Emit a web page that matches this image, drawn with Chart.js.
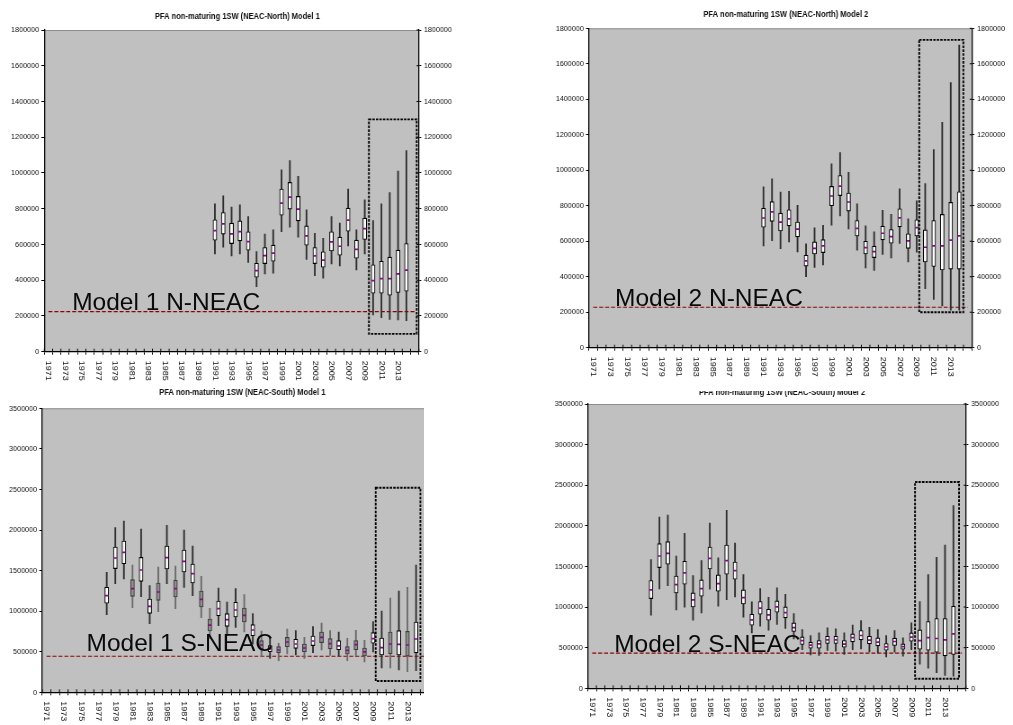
<!DOCTYPE html>
<html>
<head>
<meta charset="utf-8">
<script src="https://cdn.jsdelivr.net/npm/chart.js@4/dist/chart.umd.min.js"></script>
<style>
  html, body { margin: 0; padding: 0; background: #fff; }
  body { width: 1013px; height: 725px; position: relative; overflow: hidden;
         font-family: "Liberation Sans", Arial, sans-serif; }
  .panel { position: absolute; overflow: hidden; }
  .panel canvas { position: absolute; left: 0; top: 0; }
  .stock { position: absolute; font-size: 24.5px; line-height: 1; color: #0a0a0a;
           white-space: nowrap; z-index: 10; }
</style>
</head>
<body>
<div class="panel" id="box-bl" style="left:0;top:385px;width:424px;height:340px;z-index:1"><canvas></canvas></div>
<div class="panel" id="box-br" style="left:500px;top:380px;width:513px;height:345px;z-index:1"><canvas></canvas></div>
<div class="panel" id="box-tl" style="left:0;top:0;width:500px;height:386px;z-index:2"><canvas></canvas></div>
<div class="panel" id="box-tr" style="left:500px;top:0;width:513px;height:391px;z-index:3;background:#fff"><canvas></canvas></div>

<div class="stock" style="left:72.2px;top:290px">Model 1 N-NEAC</div>
<div class="stock" style="left:615px;top:286px">Model 2 N-NEAC</div>
<div class="stock" style="left:86.5px;top:631px">Model 1 S-NEAC</div>
<div class="stock" style="left:614.2px;top:631.6px">Model 2 S-NEAC</div>

<script>
// ---- categories (last slot is an unlabelled spare) ----------------------
const years = ['1971','1972','1973','1974','1975','1976','1977','1978','1979','1980',
  '1981','1982','1983','1984','1985','1986','1987','1988','1989','1990',
  '1991','1992','1993','1994','1995','1996','1997','1998','1999','2000',
  '2001','2002','2003','2004','2005','2006','2007','2008','2009','2010',
  '2011','2012','2013','2014',''];

// ---- NEAC-North, model 1 (1991-2014) ----------------------------------
const northM1Start = 1991;
const northM1Max = [827000, 872000, 809000, 822000, 756000, 560000, 658000, 682000, 1018000, 1070000, 981000, 794000, 663000, 635000, 756000, 719000, 910000, 682000, 850000, 734000, 827000, 891000, 1010000, 1126000];
const northM1Q3  = [738000, 779000, 719000, 732000, 671000, 495000, 583000, 596000, 910000, 947000, 869000, 704000, 583000, 559000, 671000, 641000, 803000, 624000, 747000, 486000, 506000, 529000, 568000, 605000];
const northM1Med = [678000, 715000, 659000, 672000, 616000, 454000, 538000, 551000, 831000, 865000, 798000, 648000, 536000, 512000, 615000, 590000, 736000, 572000, 689000, 398000, 409000, 409000, 435000, 456000];
const northM1Q1  = [624000, 658000, 605000, 620000, 568000, 417000, 493000, 506000, 764000, 798000, 732000, 596000, 493000, 473000, 564000, 540000, 674000, 523000, 628000, 327000, 327000, 316000, 331000, 338000];
const northM1Min = [547000, 585000, 536000, 547000, 499000, 364000, 435000, 439000, 672000, 697000, 641000, 517000, 426000, 411000, 491000, 480000, 592000, 458000, 547000, 206000, 191000, 181000, 178000, 174000];

// ---- NEAC-North, model 2 (1991-2014) ----------------------------------
const northM2Start = 1991;
const northM2Max = [907000, 951000, 877000, 881000, 802000, 585000, 675000, 689000, 1036000, 1100000, 989000, 811000, 687000, 653000, 774000, 751000, 896000, 726000, 828000, 925000, 1117000, 1270000, 1494000, 1706000];
const northM2Q3  = [786000, 823000, 758000, 777000, 708000, 521000, 596000, 609000, 909000, 970000, 872000, 717000, 600000, 572000, 685000, 666000, 783000, 642000, 721000, 664000, 717000, 751000, 819000, 879000];
const northM2Med = [731000, 766000, 708000, 726000, 668000, 489000, 560000, 574000, 855000, 911000, 821000, 672000, 564000, 542000, 645000, 626000, 732000, 602000, 677000, 566000, 574000, 574000, 606000, 630000];
const northM2Q1  = [679000, 712000, 658000, 687000, 625000, 460000, 528000, 536000, 800000, 857000, 770000, 630000, 528000, 508000, 608000, 589000, 681000, 560000, 630000, 483000, 458000, 438000, 443000, 443000];
const northM2Min = [573000, 603000, 558000, 596000, 540000, 400000, 453000, 466000, 691000, 742000, 670000, 549000, 449000, 436000, 526000, 506000, 587000, 483000, 538000, 332000, 272000, 236000, 211000, 211000];

// ---- NEAC-South, model 1 (1978-2014) ----------------------------------
const southM1Start = 1978;
const southM1Max = [1479000, 2029000, 2111000, 1569000, 2013000, 1314000, 1544000, 2058000, 1557000, 2000000, 1803000, 1429000, 1035000, 1285000, 1113000, 1277000, 1203000, 969000, 756000, 665000, 604000, 780000, 760000, 677000, 809000, 854000, 760000, 743000, 665000, 764000, 641000, 871000, 1002000, 1162000, 1248000, 1294000, 1569000];
const southM1Q3  = [1294000, 1791000, 1865000, 1388000, 1663000, 1150000, 1347000, 1803000, 1380000, 1754000, 1581000, 1248000, 903000, 1125000, 969000, 1109000, 1039000, 834000, 636000, 575000, 562000, 677000, 653000, 595000, 694000, 743000, 661000, 636000, 562000, 636000, 546000, 735000, 669000, 743000, 760000, 751000, 866000];
const southM1Med = [1191000, 1655000, 1725000, 1277000, 1507000, 1060000, 1236000, 1659000, 1277000, 1614000, 1462000, 1146000, 829000, 1031000, 895000, 1014000, 949000, 768000, 583000, 534000, 521000, 620000, 595000, 546000, 632000, 677000, 599000, 571000, 517000, 587000, 497000, 661000, 550000, 595000, 591000, 583000, 657000];
const southM1Q1  = [1097000, 1524000, 1585000, 1183000, 1368000, 973000, 1133000, 1520000, 1175000, 1483000, 1347000, 1051000, 756000, 944000, 813000, 928000, 866000, 698000, 534000, 501000, 488000, 562000, 542000, 501000, 575000, 612000, 538000, 525000, 472000, 525000, 447000, 604000, 460000, 476000, 460000, 447000, 488000];
const southM1Min = [956000, 1339000, 1396000, 1043000, 1179000, 846000, 994000, 1339000, 1031000, 1294000, 1191000, 920000, 661000, 821000, 702000, 801000, 743000, 595000, 439000, 419000, 390000, 472000, 460000, 419000, 488000, 521000, 456000, 447000, 390000, 447000, 373000, 497000, 300000, 300000, 275000, 254000, 267000];
// years whose boxes are drawn in grey
const southM1GreyYears = [1981, 1984, 1986, 1989, 1990, 1994, 1996, 1998, 1999, 2001, 2003, 2004, 2006, 2007, 2008, 2011, 2013];

// ---- NEAC-South, model 2 (1978-2014) ----------------------------------
const southM2Start = 1978;
const southM2Max = [1584000, 2109000, 2133000, 1629000, 1908000, 1387000, 1572000, 2035000, 1605000, 2191000, 1789000, 1400000, 1064000, 1228000, 1121000, 1236000, 1158000, 920000, 723000, 650000, 682000, 744000, 732000, 682000, 777000, 834000, 752000, 723000, 650000, 711000, 621000, 805000, 1068000, 1400000, 1613000, 1764000, 2248000];
const southM2Q3  = [1326000, 1781000, 1805000, 1383000, 1564000, 1174000, 1334000, 1740000, 1396000, 1764000, 1555000, 1211000, 912000, 1068000, 973000, 1076000, 1002000, 805000, 633000, 568000, 588000, 641000, 641000, 588000, 670000, 711000, 641000, 621000, 551000, 617000, 547000, 682000, 719000, 822000, 859000, 859000, 1010000];
const southM2Med = [1211000, 1629000, 1662000, 1277000, 1420000, 1088000, 1228000, 1600000, 1289000, 1572000, 1449000, 1117000, 842000, 986000, 904000, 1002000, 932000, 748000, 588000, 531000, 547000, 596000, 596000, 543000, 625000, 650000, 592000, 568000, 510000, 576000, 514000, 629000, 588000, 625000, 613000, 596000, 670000];
const southM2Q1  = [1104000, 1486000, 1527000, 1174000, 1281000, 1002000, 1133000, 1469000, 1195000, 1404000, 1342000, 1039000, 777000, 912000, 838000, 937000, 867000, 699000, 539000, 494000, 494000, 551000, 551000, 506000, 572000, 596000, 547000, 523000, 469000, 527000, 482000, 580000, 482000, 469000, 445000, 400000, 416000];
const southM2Min = [900000, 1223000, 1264000, 965000, 998000, 838000, 928000, 1219000, 1010000, 1092000, 1125000, 875000, 682000, 764000, 715000, 785000, 736000, 609000, 477000, 412000, 404000, 465000, 457000, 416000, 477000, 486000, 449000, 437000, 387000, 445000, 396000, 477000, 297000, 248000, 191000, 158000, 150000];

// ---- reference levels and highlighted forecast zones --------------------
const limitNorthM1 = 224000;
const limitNorthM2 = 228000;
const limitSouthM1 = 444000;
const limitSouthM2 = 433000;
// zone: category positions (0 = left edge of 1971) and value range
const zoneNorthM1 = { from: 39.0,  to: 44.74, low: 100000, high: 1300000 };
const zoneNorthM2 = { from: 38.8,  to: 43.98, low: 200000, high: 1735000 };
const zoneSouthM1 = { from: 38.8,  to: 44.0,  low: 140000, high: 2520000 };
const zoneSouthM2 = { from: 38.93, to: 44.17, low: 118000, high: 2540000 };

const titleNorthM1 = 'PFA non-maturing 1SW (NEAC-North) Model 1';
const titleNorthM2 = 'PFA non-maturing 1SW (NEAC-North) Model 2';
const titleSouthM1 = 'PFA non-maturing 1SW (NEAC-South) Model 1';
const titleSouthM2 = 'PFA non-maturing 1SW (NEAC-South) Model 2';

// ---- drawing ------------------------------------------------------------
const SQX = 0.9;          // each canvas is shown slightly narrower than it is drawn
const FONT = '"Liberation Sans", Arial, sans-serif';

function place(start, arr) {
  return years.map(y => {
    if (y === '') return null;
    const i = Number(y) - start;
    return (i >= 0 && i < arr.length) ? arr[i] : null;
  });
}

const panels = [
  { box: 'box-tl', left: 0, top: 0, canvasW: 556, canvasH: 386,
    plot: { left: 44.3, right: 419.2, top: 30, bottom: 351.7 },
    yMax: 1800000, yStep: 200000,
    start: northM1Start, min: northM1Min, q1: northM1Q1, med: northM1Med, q3: northM1Q3, max: northM1Max,
    grey: [], limit: limitNorthM1, zone: zoneNorthM1, title: titleNorthM1, titleAt: [237.5, 16.5] },
  { box: 'box-tr', left: 500, top: 0, canvasW: 570, canvasH: 391,
    plot: { left: 589, right: 972, top: 28.3, bottom: 347.7 },
    yMax: 1800000, yStep: 200000,
    start: northM2Start, min: northM2Min, q1: northM2Q1, med: northM2Med, q3: northM2Q3, max: northM2Max,
    grey: [], limit: limitNorthM2, zone: zoneNorthM2, title: titleNorthM2, titleAt: [785.8, 14.7] },
  { box: 'box-bl', left: 0, top: 385, canvasW: 556, canvasH: 340,
    plot: { left: 42.3, right: 429.3, top: 408.3, bottom: 692.3 },
    yMax: 3500000, yStep: 500000,
    start: southM1Start, min: southM1Min, q1: southM1Q1, med: southM1Med, q3: southM1Q3, max: southM1Max,
    grey: southM1GreyYears, limit: limitSouthM1, zone: zoneSouthM1, title: titleSouthM1, titleAt: [242.5, 393] },
  { box: 'box-br', left: 500, top: 380, canvasW: 570, canvasH: 345,
    plot: { left: 588, right: 966, top: 404, bottom: 688.3 },
    yMax: 3500000, yStep: 500000,
    start: southM2Start, min: southM2Min, q1: southM2Q1, med: southM2Med, q3: southM2Q3, max: southM2Max,
    grey: [], limit: limitSouthM2, zone: zoneSouthM2, title: titleSouthM2, titleAt: [782, 393] }
];

function buildPanel(p) {
  const cv = document.querySelector('#' + p.box + ' canvas');
  cv.width = p.canvasW;
  cv.height = p.canvasH;
  cv.style.width = (p.canvasW * SQX) + 'px';
  cv.style.height = p.canvasH + 'px';

  const toX = x => (x - p.left) / SQX;
  const leftW = toX(p.plot.left);
  const rightW = p.canvasW - toX(p.plot.right);
  const topPad = p.plot.top - p.top;
  const bottomH = p.canvasH - (p.plot.bottom - p.top);

  const lo = place(p.start, p.min), hi = place(p.start, p.max);
  const q1 = place(p.start, p.q1), q3 = place(p.start, p.q3);
  const med = place(p.start, p.med);
  const whiskers = lo.map((v, i) => v == null ? null : [v, hi[i]]);
  const boxes = q1.map((v, i) => v == null ? null : [v, q3[i]]);
  const isGrey = years.map(y => y !== '' && p.grey.includes(Number(y)));

  const edge = (xs, pos) => {
    const c0 = xs.getPixelForValue(0);
    const step = xs.getPixelForValue(1) - c0;
    return c0 + (pos - 0.5) * step;
  };

  const frame = {
    id: 'frame',
    beforeDraw(chart) {
      const { ctx, chartArea: a } = chart;
      ctx.save();
      ctx.fillStyle = '#c0c0c0';
      ctx.fillRect(a.left, a.top, a.right - a.left, a.bottom - a.top);
      ctx.strokeStyle = '#8c8c8c';
      ctx.lineWidth = 1;
      ctx.beginPath();
      ctx.moveTo(a.left, a.top + 0.5);
      ctx.lineTo(a.right, a.top + 0.5);
      ctx.stroke();
      ctx.restore();
    },
    beforeDatasetsDraw(chart) {
      // reference level
      const { ctx, scales: { x: xs, y: ys } } = chart;
      const y = ys.getPixelForValue(p.limit);
      ctx.save();
      ctx.strokeStyle = '#8b0000';
      ctx.lineWidth = 1.1;
      ctx.setLineDash([4.4, 2.2]);
      ctx.beginPath();
      ctx.moveTo(xs.getPixelForValue(0), y);
      ctx.lineTo(xs.getPixelForValue(years.length - 1), y);
      ctx.stroke();
      ctx.restore();
    },
    afterDatasetsDraw(chart) {
      // dashed frame around the forecast years
      const { ctx, scales: { x: xs, y: ys } } = chart;
      const x0 = edge(xs, p.zone.from), x1 = edge(xs, p.zone.to);
      const y0 = ys.getPixelForValue(p.zone.high), y1 = ys.getPixelForValue(p.zone.low);
      ctx.save();
      ctx.strokeStyle = '#000';
      ctx.lineWidth = 1.9;
      ctx.setLineDash([2.6, 1.3]);
      ctx.strokeRect(x0, y0, x1 - x0, y1 - y0);
      ctx.restore();
    },
    afterDraw(chart) {
      const { ctx, chartArea: a, scales: { x: xs, y2: ys2 } } = chart;
      ctx.save();
      // inner halves of the category ticks and right-axis ticks
      ctx.strokeStyle = '#000';
      ctx.lineWidth = 1;
      ctx.beginPath();
      for (let i = 0; i <= years.length; i++) {
        const x = edge(xs, i);
        ctx.moveTo(x, a.bottom);
        ctx.lineTo(x, a.bottom - 3);
      }
      for (let v = 0; v <= p.yMax; v += p.yStep) {
        const y = ys2.getPixelForValue(v);
        ctx.moveTo(a.right, y);
        ctx.lineTo(a.right - 2.6, y);
      }
      ctx.stroke();

      // year labels, reading downwards, every other year
      ctx.fillStyle = '#111';
      ctx.font = '9px ' + FONT;
      ctx.textAlign = 'left';
      ctx.textBaseline = 'middle';
      years.forEach((yr, i) => {
        if (yr === '' || Number(yr) % 2 === 0) return;
        ctx.save();
        ctx.translate(xs.getPixelForValue(i), a.bottom + 9);
        ctx.rotate(Math.PI / 2);
        ctx.fillText(yr, 0, 0);
        ctx.restore();
      });

      // chart title
      ctx.font = 'bold 8.4px ' + FONT;
      ctx.textAlign = 'center';
      ctx.textBaseline = 'middle';
      ctx.fillText(p.title, toX(p.titleAt[0]), p.titleAt[1] - p.top);
      ctx.restore();
    }
  };

  const yTicks = (tickLen, pad) => ({
    min: 0, max: p.yMax,
    grid: { drawOnChartArea: false, drawTicks: true, tickLength: tickLen, color: '#000', lineWidth: 1 },
    border: { display: true, color: '#000', width: 1.3 },
    ticks: { stepSize: p.yStep, padding: pad, color: '#111',
             font: { family: FONT, size: 8 }, callback: v => String(v) }
  });

  new Chart(cv, {
    type: 'bar',
    data: {
      labels: years,
      datasets: [
        { type: 'line', label: 'median', data: med, showLine: false,
          pointStyle: 'line', pointRadius: 1.7, pointHoverRadius: 1.7, pointHitRadius: 0,
          pointBorderWidth: 1.7, pointBorderColor: '#8a0a8a', pointBackgroundColor: '#8a0a8a',
          borderColor: '#8a0a8a', order: 0 },
        { label: 'quartiles', data: boxes, grouped: false, barThickness: 4.3,
          borderWidth: 1.1, borderSkipped: false,
          backgroundColor: isGrey.map(g => g ? '#8e8e8e' : '#ffffff'),
          borderColor: isGrey.map(g => g ? '#3c3c3c' : '#000000'), order: 1 },
        { label: 'range', data: whiskers, grouped: false, barThickness: 1.2,
          borderWidth: 0,
          backgroundColor: isGrey.map(g => g ? '#6a6a6a' : '#2e2e2e'), order: 2 }
      ]
    },
    options: {
      responsive: false,
      animation: false,
      events: [],
      devicePixelRatio: 1,
      layout: { padding: { top: topPad, left: 0, right: 0, bottom: 0 } },
      plugins: { legend: { display: false }, tooltip: { enabled: false }, title: { display: false } },
      scales: {
        x: {
          type: 'category', offset: true,
          grid: { offset: true, drawOnChartArea: false, drawTicks: true, tickLength: 3, color: '#000', lineWidth: 1 },
          border: { display: true, color: '#000', width: 1.3 },
          ticks: { display: false },
          afterFit: s => { s.height = bottomH; }
        },
        y: Object.assign({ position: 'left', afterFit: s => { s.width = leftW; } }, yTicks(3.3, 2.5)),
        y2: Object.assign({ position: 'right', afterFit: s => { s.width = rightW; } }, yTicks(2.6, 3))
      }
    },
    plugins: [frame]
  });
}

panels.forEach(buildPanel);
</script>
</body>
</html>
